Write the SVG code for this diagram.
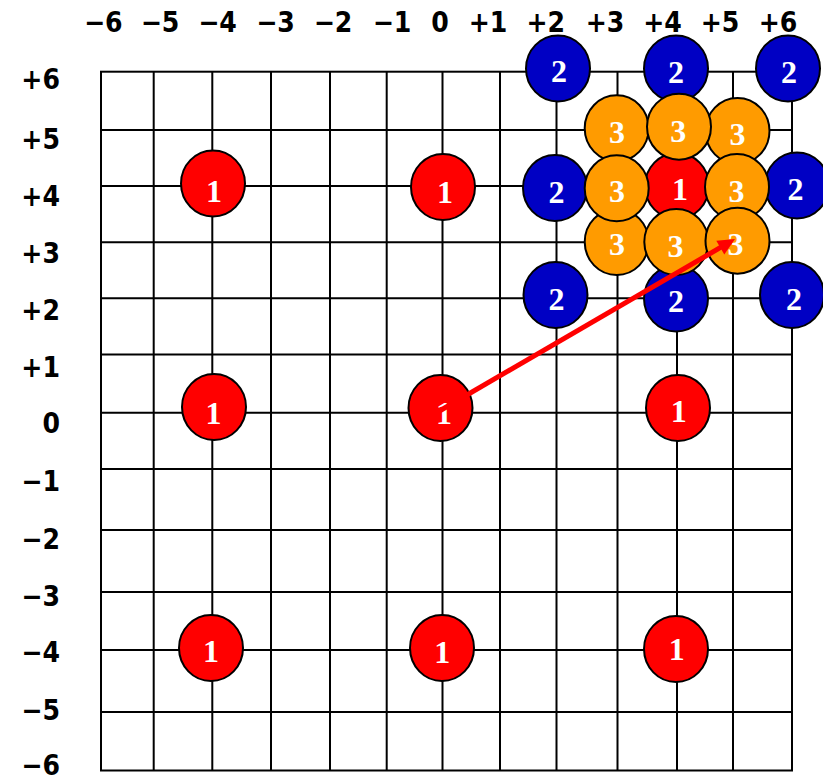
<svg xmlns="http://www.w3.org/2000/svg" width="823" height="779" viewBox="0 0 823 779">
<style>
.g{stroke:#000;stroke-width:2;fill:none}
.ax{font-family:"DejaVu Sans Condensed","DejaVu Sans",sans-serif;font-stretch:condensed;font-weight:bold;font-size:28px;fill:#000}
.n{stroke:#000;stroke-width:2}
.red{fill:#FF0000}
.blue{fill:#0000C4}
.orange{fill:#FF9B00}
.t{font-family:"Liberation Serif","Times New Roman",serif;font-weight:bold;font-size:32px;fill:#fff;text-anchor:middle}
</style>
<rect width="823" height="779" fill="#fff"/>
<g id="grid">
<rect class="g" x="101" y="71.7" width="691" height="698.8"/>
<path class="g" d="M153.7 71.7V770.5M212.3 71.7V770.5M271 71.7V770.5M330 71.7V770.5M386.7 71.7V770.5M442.5 71.7V770.5M500 71.7V770.5M556.5 71.7V770.5M617.5 71.7V770.5M677 71.7V770.5M733 71.7V770.5"/>
<path class="g" d="M101 130H792M101 186H792M101 242.3H792M101 298.3H792M101 354.5H792M101 412.7H792M101 469H792M101 530H792M101 592H792M101 650H792M101 712H792"/>
</g>
<g id="x-labels" class="ax" text-anchor="middle">
<text x="103.3" y="32.3">−6</text>
<text x="160" y="32.3">−5</text>
<text x="217.5" y="32.3">−4</text>
<text x="275.5" y="32.3">−3</text>
<text x="333" y="32.3">−2</text>
<text x="392" y="32.3">−1</text>
<text x="440" y="32.3">0</text>
<text x="488" y="32.3">+1</text>
<text x="545.8" y="32.3">+2</text>
<text x="605" y="32.3">+3</text>
<text x="662.5" y="32.3">+4</text>
<text x="720" y="32.3">+5</text>
<text x="778" y="32.3">+6</text>
</g>
<g id="y-labels" class="ax" text-anchor="end">
<text x="60" y="89">+6</text>
<text x="60" y="149">+5</text>
<text x="60" y="206">+4</text>
<text x="60" y="263">+3</text>
<text x="60" y="320">+2</text>
<text x="60" y="377">+1</text>
<text x="60" y="433">0</text>
<text x="60" y="491">−1</text>
<text x="60" y="549">−2</text>
<text x="60" y="606">−3</text>
<text x="60" y="662">−4</text>
<text x="60" y="720">−5</text>
<text x="60" y="774.5">−6</text>
</g>
<g id="node-r-m4-p4"><ellipse class="n red" cx="213" cy="183.5" rx="32" ry="33"/><text class="t" x="214" y="201.5">1</text></g>
<g id="node-r-0-p4"><ellipse class="n red" cx="443" cy="187" rx="32" ry="33"/><text class="t" x="445" y="203.3">1</text></g>
<g id="node-r-m4-0"><ellipse class="n red" cx="214" cy="407" rx="32" ry="33"/><text class="t" x="213.5" y="424">1</text></g>
<g id="node-r-0-0"><ellipse class="n red" cx="440.5" cy="408" rx="32" ry="33"/><text class="t" x="444" y="424">1</text></g>
<g id="node-r-p4-0"><ellipse class="n red" cx="678" cy="408" rx="32" ry="33"/><text class="t" x="678.7" y="421.7">1</text></g>
<g id="node-r-m4-m4"><ellipse class="n red" cx="211" cy="648" rx="32" ry="33"/><text class="t" x="211" y="661.7">1</text></g>
<g id="node-r-0-m4"><ellipse class="n red" cx="442" cy="648" rx="32" ry="33"/><text class="t" x="442.3" y="662.7">1</text></g>
<g id="node-r-p4-m4"><ellipse class="n red" cx="676" cy="649" rx="32" ry="33"/><text class="t" x="676.7" y="660">1</text></g>
<g id="node-r-p4-p4"><ellipse class="n red" cx="677" cy="186" rx="32" ry="33"/><text class="t" x="680" y="200">1</text></g>
<g id="node-b-p2-p6"><ellipse class="n blue" cx="558" cy="68.5" rx="32" ry="33"/><text class="t" x="559" y="81.7">2</text></g>
<g id="node-b-p4-p6"><ellipse class="n blue" cx="676" cy="68.5" rx="32" ry="33"/><text class="t" x="676" y="83.3">2</text></g>
<g id="node-b-p6-p6"><ellipse class="n blue" cx="788" cy="68.5" rx="32" ry="33"/><text class="t" x="789" y="83.3">2</text></g>
<g id="node-b-p2-p4"><ellipse class="n blue" cx="555" cy="188" rx="32" ry="33"/><text class="t" x="556.5" y="203.3">2</text></g>
<g id="node-b-p6-p4"><ellipse class="n blue" cx="797" cy="185.5" rx="32" ry="33"/><text class="t" x="795.5" y="200">2</text></g>
<g id="node-b-p2-p2"><ellipse class="n blue" cx="555.5" cy="295" rx="32" ry="33"/><text class="t" x="556.5" y="310">2</text></g>
<g id="node-b-p4-p2"><ellipse class="n blue" cx="676" cy="298.5" rx="32" ry="33"/><text class="t" x="676" y="311.7">2</text></g>
<g id="node-b-p6-p2"><ellipse class="n blue" cx="792" cy="295" rx="32" ry="33"/><text class="t" x="794" y="310">2</text></g>
<g id="node-o-p3-p5"><ellipse class="n orange" cx="616.7" cy="128.3" rx="32" ry="33"/><text class="t" x="617" y="143.3">3</text></g>
<g id="node-o-p5-p5"><ellipse class="n orange" cx="737.5" cy="131" rx="32" ry="33"/><text class="t" x="737.5" y="145">3</text></g>
<g id="node-o-p4-p5"><ellipse class="n orange" cx="679" cy="126.7" rx="32" ry="33"/><text class="t" x="678.3" y="141.7">3</text></g>
<g id="node-o-p3-p3"><ellipse class="n orange" cx="616.7" cy="242" rx="32" ry="33"/><text class="t" x="617" y="255">3</text></g>
<g id="node-o-p3-p4"><ellipse class="n orange" cx="616.7" cy="188.3" rx="32" ry="33"/><text class="t" x="617" y="201.7">3</text></g>
<g id="node-o-p4-p3"><ellipse class="n orange" cx="676.3" cy="242" rx="32" ry="33"/><text class="t" x="675.5" y="256.7">3</text></g>
<g id="node-o-p5-p4"><ellipse class="n orange" cx="737" cy="187" rx="32" ry="33"/><text class="t" x="736.5" y="201.7">3</text></g>
<g id="node-o-p5-p3"><ellipse class="n orange" cx="737.5" cy="240.7" rx="32" ry="33"/><text class="t" x="735.5" y="255">3</text></g>
<g id="connectors">
<line x1="436" y1="413" x2="721" y2="247.2" stroke="#FF0000" stroke-width="5"/>
<polygon points="735,239 716.3,240.7 724.3,254.5" fill="#FF0000"/>
</g>
</svg>
